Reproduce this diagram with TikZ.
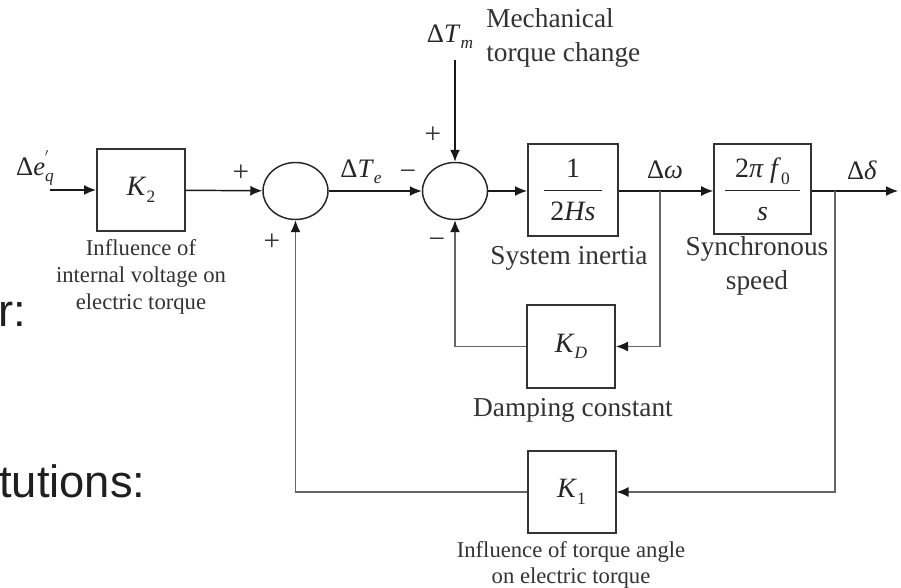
\documentclass[tikz,border=0pt]{standalone}
\usepackage{fontspec}
\setmainfont{Liberation Serif}
\newfontfamily\slidefont{Liberation Sans}
\usetikzlibrary{arrows.meta,shapes.geometric}
\newcommand\dsub[1]{\raisebox{-0.5ex}{\fontsize{13pt}{13pt}\selectfont\itshape #1}}
\newcommand\usub[1]{\raisebox{-0.5ex}{\fontsize{13pt}{13pt}\selectfont #1}}
\newcommand\vv[1]{\textit{#1}}
\tikzset{
  mathtxt/.style={font=\fontsize{20pt}{24pt}\selectfont, text=black!85, inner sep=0pt},
  lbl/.style={font=\fontsize{20.5pt}{25pt}\selectfont, text=black!80, align=center, inner sep=0pt},
  small/.style={font=\fontsize{17pt}{20pt}\selectfont, text=black!80, align=center, inner sep=0pt},
  sign/.style={font=\fontsize{22pt}{22pt}\selectfont, text=black!80, inner sep=0pt},
  blk/.style={draw=black!80, line width=1.5pt, rectangle, inner sep=0pt,
              minimum width=66pt, minimum height=62pt,
              font=\fontsize{21pt}{24pt}\selectfont, text=black!85},
  sumj/.style={draw=black!85, line width=1.1pt, ellipse, inner sep=0pt,
               minimum width=48.75pt, minimum height=42.75pt},
  arr/.style={draw=black!90, line width=1.1pt, -{Latex[length=9pt,width=7.5pt]}},
  fba/.style={draw=black!60, line width=1.1pt, -{Latex[length=9pt,width=7.5pt,color=black!90]}},
  slide/.style={font=\slidefont\fontsize{34pt}{36pt}\selectfont, text=black!88, inner sep=0pt}
}
\begin{document}
\begin{tikzpicture}[x=0.75pt,y=-0.75pt]
\useasboundingbox (0,0) rectangle (901,588);
\fill[white] (0,0) rectangle (901,588);

% slide fragments
\node[slide, anchor=base west] (sr) at (-2,327) {r:};
\node[slide, anchor=base west] (st) at (-1,498) {tutions:};

% blocks
\node[blk] (K2) at (141,190) {\vv{K}\usub{2}};
\node[sumj] (S1) at (295.5,191) {};
\node[sumj] (S2) at (455,191) {};
\node[blk, minimum width=67.5pt, minimum height=69pt, align=center] (G1) at (573,190)
  {1\\[-14pt]\rule{44pt}{1pt}\\[-2pt]2\vv{Hs}};
\node[blk, minimum width=72.5pt, minimum height=67.5pt, align=center] (G2) at (762.5,189.5)
  {2\vv{π f}\usub{0}\\[-14pt]\rule{56pt}{1pt}\\[-2pt]\vv{s}};
\node[blk] (KD) at (571,346.5) {\vv{K}\dsub{D}};
\node[blk] (K1) at (571.5,492) {\vv{K}\usub{1}};

% signal labels
\node[mathtxt] (din) at (35,168) {Δ\vv{e}\rlap{\raisebox{1.1ex}{\fontsize{12pt}{12pt}\selectfont$'$}}\dsub{q}};
\node[mathtxt] (dTe) at (361,172) {Δ\vv{T}\dsub{e}};
\node[mathtxt] (dTm) at (450,37) {Δ\vv{T}\dsub{m}};
\node[mathtxt] (dw) at (665,170) {Δ\vv{ω}};
\node[mathtxt] (dd) at (862,170) {Δ\vv{δ}};
\node[lbl, align=left, anchor=west] (mech) at (486,38) {Mechanical\\torque change};

% descriptive labels
\node[small] (l2) at (141,277) {Influence of\\internal voltage on\\electric torque};
\node[lbl] (lG1) at (569,258) {System inertia};
\node[lbl] (lG2) at (757,266) {Synchronous\\speed};
\node[lbl] (lKD) at (573,410) {Damping constant};
\node[small] (lK1) at (571,565) {Influence of torque angle\\on electric torque};

% signs
\node[sign] (p1) at (241,173) {+};
\node[sign] (p2) at (272,242) {+};
\node[sign] (p3) at (433,135) {+};
\node[sign] (m1) at (408,175) {−};
\node[sign] (m2) at (437,243) {−};

% coordinates
\coordinate (in) at (50,190);
\coordinate (tm) at (455,60);
\coordinate (bw) at (660,191);
\coordinate (bd) at (835,191);
\coordinate (out) at (898,191);

% main path
\draw[arr] (in) -- (K2);
\draw[arr] (K2) -- (S1);
\draw[arr] (S1) -- (S2);
\draw[arr] (S2) -- (G1.west |- S2);
\draw[arr] (G1.east |- S2) -- (G2.west |- S2);
\draw[arr] (G2.east |- S2) -- (out);
\draw[arr] (tm) -- (S2);

% feedback paths
\draw[fba] (bw) |- (KD);
\draw[fba] (KD) -| (S2);
\draw[fba] (bd) |- (K1);
\draw[fba] (K1) -| (S1);
\end{tikzpicture}
\end{document}
